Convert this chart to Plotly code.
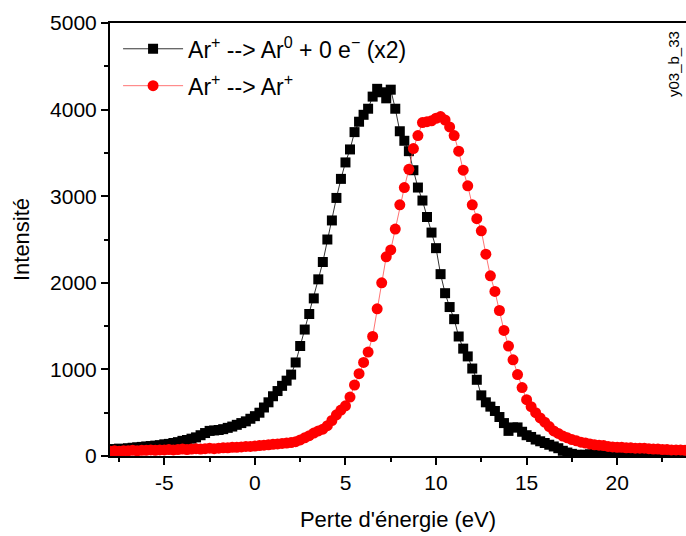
import plotly.graph_objects as go

# energy loss grid (eV), 0.25 eV steps
energie = [
    -8.0, -7.75, -7.5, -7.25, -7.0, -6.75, -6.5, -6.25, -6.0, -5.75, -5.5, -5.25,
    -5.0, -4.75, -4.5, -4.25, -4.0, -3.75, -3.5, -3.25, -3.0, -2.75, -2.5, -2.25,
    -2.0, -1.75, -1.5, -1.25, -1.0, -0.75, -0.5, -0.25, 0.0, 0.25, 0.5, 0.75,
    1.0, 1.25, 1.5, 1.75, 2.0, 2.25, 2.5, 2.75, 3.0, 3.25, 3.5, 3.75,
    4.0, 4.25, 4.5, 4.75, 5.0, 5.25, 5.5, 5.75, 6.0, 6.25, 6.5, 6.75,
    7.0, 7.25, 7.5, 7.75, 8.0, 8.25, 8.5, 8.75, 9.0, 9.25, 9.5, 9.75,
    10.0, 10.25, 10.5, 10.75, 11.0, 11.25, 11.5, 11.75, 12.0, 12.25, 12.5, 12.75,
    13.0, 13.25, 13.5, 13.75, 14.0, 14.25, 14.5, 14.75, 15.0, 15.25, 15.5, 15.75,
    16.0, 16.25, 16.5, 16.75, 17.0, 17.25, 17.5, 17.75, 18.0, 18.25, 18.5, 18.75,
    19.0, 19.25, 19.5, 19.75, 20.0, 20.25, 20.5, 20.75, 21.0, 21.25, 21.5, 21.75,
    22.0, 22.25, 22.5, 22.75, 23.0, 23.25, 23.5, 23.75,
]

# Ar+ --> Ar0 + 0 e- (x2)
neutre = [
    80, 75, 85, 80, 90, 95, 100, 105, 110, 115, 120, 125,
    135, 140, 150, 160, 175, 185, 200, 215, 240, 265, 290, 295,
    300, 310, 325, 340, 360, 380, 400, 430, 460, 500, 560, 620,
    690, 750, 810, 870, 940, 1080, 1270, 1460, 1640, 1820, 2040, 2240,
    2500, 2720, 2980, 3200, 3390, 3540, 3740, 3860, 3940, 4010, 4150, 4240,
    4200, 4130, 4230, 4010, 3750, 3640, 3520, 3300, 3100, 2950, 2760, 2580,
    2400, 2100, 1880, 1720, 1580, 1380, 1240, 1150, 1010, 880, 700, 620,
    570, 520, 450, 380, 290, 330, 330, 280, 240, 220, 190, 170,
    150, 130, 110, 90, 60, 40, 25, 15, 10, 15, 20, 25,
    30, 30, 35, 40, 40, 45, 45, 50, 50, 55, 50, 55,
    55, 60, 55, 60, 60, 55, 60, 60,
]

# Ar+ --> Ar+
ion = [
    55, 60, 55, 60, 60, 65, 60, 65, 65, 70, 65, 70,
    70, 75, 70, 75, 80, 75, 80, 85, 80, 85, 90, 85,
    90, 95, 95, 100, 100, 105, 110, 110, 115, 120, 125, 130,
    135, 140, 145, 150, 155, 165, 185, 210, 235, 265, 290, 310,
    350, 410, 475, 530, 580, 680, 820, 950, 1080, 1200, 1380, 1700,
    2000, 2300, 2380, 2620, 2900, 3100, 3310, 3550, 3700, 3850, 3860, 3870,
    3900, 3920, 3880, 3800, 3700, 3520, 3300, 3120, 2900, 2740, 2600, 2330,
    2080, 1900, 1680, 1450, 1270, 1110, 940, 790, 650, 570, 500, 440,
    390, 340, 290, 260, 230, 210, 190, 175, 160, 150, 140, 130,
    125, 120, 110, 105, 100, 100, 95, 95, 90, 90, 90, 85,
    80, 80, 75, 75, 70, 70, 70, 65,
]

# x tick labels (plain hyphen like the original)
x_ticks = [-5, 0, 5, 10, 15, 20]
x_ticklabels = ["-5", "0", "5", "10", "15", "20"]

font = "Liberation Sans"

fig = go.Figure()
fig.add_trace(go.Scatter(
    x=energie, y=neutre, mode="lines+markers",
    name="Ar<sup>+</sup> --> Ar<sup>0</sup> + 0 e<sup>\u2212</sup> (x2)",
    line=dict(color="#333333", width=1),
    marker=dict(symbol="square", size=10, color="black"),
    legendgroup="a",
))
fig.add_trace(go.Scatter(
    x=energie, y=ion, mode="lines+markers",
    name="Ar<sup>+</sup> --> Ar<sup>+</sup>",
    line=dict(color="rgba(255,80,80,0.8)", width=1),
    marker=dict(symbol="circle", size=11, color="red"),
    legendgroup="b",
))

fig.add_annotation(
    text="y03_b_33", textangle=-90, xref="paper", yref="paper",
    x=1, y=0.985, xanchor="right", yanchor="top", xshift=-2, showarrow=False,
    font=dict(family=font, size=15, color="black"),
)

axis_common = dict(
    showline=True, linecolor="black", linewidth=2, ticks="outside",
    ticklen=7, tickwidth=1.5, tickcolor="black", showgrid=False, zeroline=False,
    automargin=False,
    tickfont=dict(family=font, size=21, color="black"),
)

fig.update_xaxes(
    range=[-8, 23.8], tickvals=x_ticks, ticktext=x_ticklabels, mirror=True,
    minor=dict(dtick=2.5, tick0=0, ticks="outside", ticklen=4, tickcolor="black"),
    title=dict(text="Perte d'énergie (eV)", font=dict(family=font, size=22, color="black"), standoff=18),
    **axis_common,
)
fig.update_yaxes(
    range=[0, 5000], dtick=1000,
    minor=dict(dtick=500, ticks="outside", ticklen=4, tickcolor="black"),
    title=dict(text="Intensité", font=dict(family=font, size=22, color="black"), standoff=14),
    **axis_common,
)

fig.update_layout(
    width=686, height=536,
    margin=dict(l=110, r=0, t=23, b=80),
    plot_bgcolor="white", paper_bgcolor="white",
    legend=dict(
        x=0.014, y=0.99, xanchor="left", yanchor="top",
        bgcolor="rgba(0,0,0,0)", itemwidth=60, tracegroupgap=4,
        font=dict(family=font, size=23, color="black"),
    ),
)

fig.write_html("out.html", config={"displayModeBar": False},
               post_script="document.body.style.margin='0';")
